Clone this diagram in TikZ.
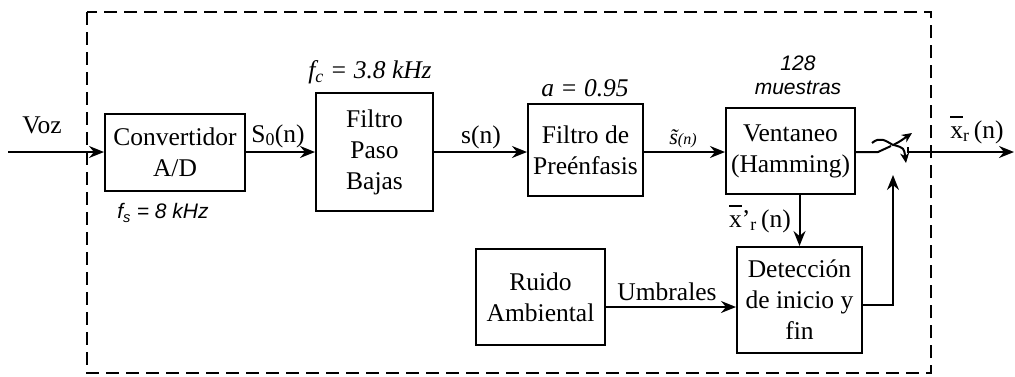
\documentclass[tikz,border=0pt]{standalone}
\usepackage{fontspec}
\setmainfont{Liberation Serif}
\setsansfont{Liberation Sans}
\usetikzlibrary{arrows.meta}
\newcommand\myxbar{\leavevmode\rlap{\raisebox{0.8em}{\rule{0.5em}{0.06em}}}x}
\begin{document}
\begin{tikzpicture}[x=1pt,y=-1pt,
  font=\fontsize{25.5}{31}\selectfont,
  ln/.style={line width=2pt},
  blk/.style={draw, line width=2pt, align=center, inner sep=0pt},
  ar/.style={ln, -{Stealth[length=15pt,width=12pt,inset=5pt]}},
  smalltip/.style={ln, -{Stealth[length=10pt,width=9pt,inset=3pt]}},
  dbox/.style={line width=2pt, dash pattern=on 13pt off 7pt},
  lbl/.style={inner sep=0pt}]
\useasboundingbox (0,0) rectangle (1015,376);
\draw[dbox] (87,12) rectangle (931,373);
% blocks
\node[blk, minimum width=140pt, minimum height=77pt] (conv) at (175,152.5) {Convertidor\\A/D};
\node[blk, minimum width=117pt, minimum height=118pt] (fpb) at (374.5,152) {Filtro\\Paso\\Bajas};
\node[blk, minimum width=115pt, minimum height=92pt] (pre) at (585.5,150) {Filtro de\\Preénfasis};
\node[blk, minimum width=129pt, minimum height=86pt] (ven) at (790.5,151) {Ventaneo\\(Hamming)};
\node[blk, minimum width=129pt, minimum height=96pt] (rui) at (540.5,297) {Ruido\\Ambiental};
\node[blk, minimum width=125pt, minimum height=106pt] (det) at (799.5,300) {Detección\\de inicio y\\fin};
% coordinates
\coordinate (in) at (8,152);
\coordinate (m) at (0,152);
\coordinate (u) at (0,307);
\coordinate (c) at (0,305);
\coordinate (sw) at (893,175);
\coordinate (out) at (1014,152);
% connectors
\draw[ar] (in) -- (conv.west |- m);
\draw[ar] (conv.east |- m) -- (fpb.west |- m);
\draw[ar] (fpb.east |- m) -- (pre.west |- m);
\draw[ar] (pre.east |- m) -- (ven.west |- m);
\draw[ar] (ven.south -| det.north) -- (det.north);
\draw[ar] (rui.east |- u) -- (det.west |- u);
\draw[ar] (det.east |- c) -| (sw);
% switch
\draw[ln] (ven.east |- m) -- (878,152) -- (891,146);
\draw[smalltip] (872,143) .. controls (880,136) and (886,141) .. (893,145) .. controls (899,142) .. (912,133);
\draw[smalltip] (894,145) .. controls (904,148) .. (906,163);
\draw[ar] (908,147) -- (908,152) -- (out);
% labels
\node[lbl] (voz) at (42,125) {Voz};
\node[lbl] (s0) at (278,136) {S\textsubscript{0}(n)};
\node[lbl] (sn) at (481,137) {s(n)};
\node[lbl] (st) at (683,139) {{\fontsize{22}{22}\selectfont\itshape\~{s}}{\fontsize{16}{16}\selectfont\itshape(n)}};
\node[lbl, font=\sffamily\itshape\fontsize{21}{21}\selectfont] (fs) at (163,213) {f\textsubscript{s} = 8 kHz};
\node[lbl, font=\itshape\fontsize{25.5}{31}\selectfont] (fc) at (370,72) {f\textsubscript{c} = 3.8 kHz};
\node[lbl, font=\itshape\fontsize{25.5}{31}\selectfont] (a) at (585,88) {a = 0.95};
\node[lbl, align=center, font=\sffamily\itshape\fontsize{21}{24}\selectfont] (mu) at (798,75) {128\\muestras};
\node[lbl] (um) at (667,292) {Umbrales};
\node[lbl] (xp) at (760,219) {\myxbar’\textsubscript{r}\,(n)};
\node[lbl] (xr) at (977,130) {\myxbar\textsubscript{r}\,(n)};
\end{tikzpicture}
\end{document}
